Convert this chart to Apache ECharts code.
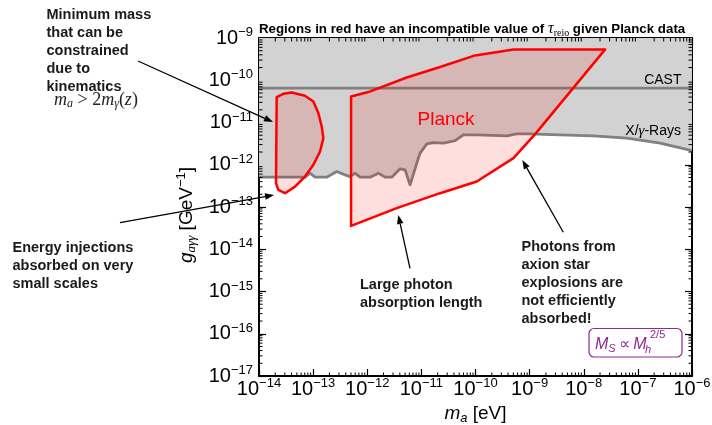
<!DOCTYPE html>
<html>
<head>
<meta charset="utf-8">
<script src="https://cdn.jsdelivr.net/npm/echarts@6/dist/echarts.min.js"></script>
<style>
html, body { margin: 0; padding: 0; background: #fff; }
#main { width: 712px; height: 425px; }
</style>
</head>
<body>
<div id="main"></div>
<script>
// all values are log10: x = log10(m_a / eV), y = log10(g / GeV^-1)
const xrayX = [-14, -13.150, -13.057, -12.965, -12.749, -12.564, -12.410, -12.318, -12.226, -12.133, -11.948, -11.795,
  -11.671, -11.547, -11.394, -11.301, -11.209, -11.055, -11.024, -10.900, -10.778, -10.593, -10.377, -10.224,
  -9.976, -9.421, -9.237, -9.022, -8.436, -7.821, -7.203, -6.588, -6];
const xrayY = [-12.294, -12.294, -12.199, -12.294, -12.294, -12.161, -12.239, -12.280, -12.199, -12.294, -12.294, -12.199,
  -12.294, -12.294, -12.097, -12.121, -12.476, -11.844, -11.725, -11.505, -11.474, -11.488, -11.427, -11.291,
  -11.291, -11.315, -11.268, -11.268, -11.291, -11.315, -11.370, -11.488, -11.664];

const castX = [-14, -6];
const castY = [-10.185, -10.185];

const blobX = [-13.686, -13.673, -13.551, -13.396, -13.150, -12.996, -12.904, -12.841, -12.811, -12.872, -12.996, -13.150, -13.335, -13.519, -13.643];
const blobY = [-12.436, -10.398, -10.320, -10.289, -10.367, -10.502, -10.777, -11.095, -11.370, -11.687, -12.002, -12.280, -12.517, -12.673, -12.595];

const planckX = [-12.299, -11.980, -11.270, -10.654, -10.007, -9.299, -7.604, -8.898, -9.299, -9.976, -10.654, -11.455, -12.299];
const planckY = [-10.384, -10.280, -9.934, -9.687, -9.412, -9.270, -9.270, -11.275, -11.844, -12.398, -12.673, -13.028, -13.448];

const xMin = -14, xMax = -6, yMin = -17, yMax = -9;

const SANS = '"Liberation Sans", Arial, Helvetica, sans-serif';
const SERIF = '"Liberation Serif", "Times New Roman", serif';

const chart = echarts.init(document.getElementById('main'));

const tickRich = {
    b: { fontSize: 20, fontFamily: SANS, color: '#000' },
    s: { fontSize: 13, fontFamily: SANS, color: '#000', padding: [0, 0, 11, 0] }
};
function powLabel(v) {
    return '{b|10}{s|−' + Math.abs(v) + '}';
}

// minor ticks of a log axis (2..9 in each decade)
const minorX = [], minorY = [];
for (let d = xMin; d < xMax; d++) for (let k = 2; k <= 9; k++) minorX.push(d + Math.log10(k));
for (let d = yMin; d < yMax; d++) for (let k = 2; k <= 9; k++) minorY.push(d + Math.log10(k));

function polySeries(xs, ys, style, z) {
    return {
        type: 'custom', z: z, silent: true,
        data: [[xs[0], ys[0]]],
        renderItem: function (params, api) {
            const pts = xs.map((x, i) => api.coord([x, ys[i]]));
            return { type: 'polygon', shape: { points: pts }, style: style };
        }
    };
}

function tickLine(x1, y1, x2, y2) {
    return { type: 'line', shape: { x1: x1, y1: y1, x2: x2, y2: y2 }, style: { stroke: '#000', lineWidth: 1 } };
}

function arrow(x1, y1, x2, y2) {
    const a = Math.atan2(y2 - y1, x2 - x1), L = 9, W = 3.3;
    const bx = x2 - L * Math.cos(a), by = y2 - L * Math.sin(a);
    return [
        { type: 'line', z: 100, shape: { x1: x1, y1: y1, x2: bx, y2: by }, style: { stroke: '#000', lineWidth: 1.3 } },
        { type: 'polygon', z: 100, shape: { points: [[x2, y2], [bx - W * Math.sin(a), by + W * Math.cos(a)], [bx + W * Math.sin(a), by - W * Math.cos(a)]] }, style: { fill: '#000' } }
    ];
}

function note(x, y, text) {
    return { type: 'text', x: x, y: y, z: 100, style: { text: text, font: 'bold 14.5px ' + SANS, fill: '#1a1a1a', lineHeight: 18, verticalAlign: 'top' } };
}

const axisCommon = {
    type: 'value',
    axisLine: { show: true, onZero: false, lineStyle: { color: '#000', width: 2 } },
    axisTick: { show: true, inside: true, length: 7, lineStyle: { color: '#000', width: 1.2 } },
    splitLine: { show: false }
};

const purple = '#8e2a8e';

let option = {
    animation: false,
    grid: { left: 259, right: 20, top: 38, bottom: 49, containLabel: false, outerBoundsMode: 'none' },
    title: {
        text: 'Regions in red have an incompatible value of {t|τ}{sub|reio} given Planck data',
        left: 259, top: 20, padding: 0,
        textStyle: {
            fontFamily: SANS, fontWeight: 'bold', fontSize: 13.3, color: '#000',
            rich: {
                t: { fontFamily: SERIF, fontStyle: 'italic', fontSize: 16, fontWeight: 'normal' },
                sub: { fontFamily: SERIF, fontSize: 10, fontWeight: 'normal', padding: [8, 0, 0, 0] }
            }
        }
    },
    xAxis: [
        Object.assign({}, axisCommon, {
            min: xMin, max: xMax, interval: 1, position: 'bottom',
            axisLabel: { formatter: powLabel, rich: tickRich, margin: 1, showMinLabel: true, showMaxLabel: true },
            name: '{i|m}{sub|a} [eV]', nameLocation: 'middle', nameGap: 24,
            nameTextStyle: {
                fontFamily: SANS, fontSize: 19, color: '#000',
                rich: {
                    i: { fontFamily: SANS, fontStyle: 'italic', fontSize: 19 },
                    sub: { fontFamily: SANS, fontStyle: 'italic', fontSize: 13, padding: [9, 0, 0, 0] }
                }
            }
        }),
        Object.assign({}, axisCommon, {
            min: xMin, max: xMax, interval: 1, position: 'top',
            axisLabel: { show: false }
        })
    ],
    yAxis: [
        Object.assign({}, axisCommon, {
            min: yMin, max: yMax, interval: 1, position: 'left',
            axisLabel: { formatter: powLabel, rich: tickRich, margin: 6, showMinLabel: true, showMaxLabel: true },
            name: '{i|g}{sub|aγγ} [GeV{sup|−1}]', nameLocation: 'middle', nameRotate: 90, nameGap: 60,
            nameTextStyle: {
                fontFamily: SANS, fontSize: 19, color: '#000', padding: [0, 16, 0, 0],
                rich: {
                    i: { fontFamily: SANS, fontStyle: 'italic', fontSize: 19 },
                    sub: { fontFamily: SERIF, fontStyle: 'italic', fontSize: 13, padding: [9, 0, 0, 0] },
                    sup: { fontFamily: SANS, fontSize: 13, padding: [0, 0, 11, 0] }
                }
            }
        }),
        Object.assign({}, axisCommon, {
            min: yMin, max: yMax, interval: 1, position: 'right',
            axisLabel: { show: false }
        })
    ],
    series: [
        polySeries(xrayX.concat([xMax, xMin]), xrayY.concat([yMax, yMax]), { fill: '#d2d2d2' }, 1),
        {
            type: 'line', z: 2, silent: true, showSymbol: false,
            data: castX.map((x, i) => [x, castY[i]]),
            lineStyle: { color: '#808080', width: 2.8 }
        },
        {
            type: 'line', z: 2, silent: true, showSymbol: false,
            data: xrayX.map((x, i) => [x, xrayY[i]]),
            lineStyle: { color: '#808080', width: 2.8, join: 'round' }
        },
        polySeries(blobX, blobY, { fill: 'rgba(255,0,0,0.13)', stroke: '#ff0000', lineWidth: 2.5, lineJoin: 'round' }, 3),
        polySeries(planckX, planckY, { fill: 'rgba(255,0,0,0.13)', stroke: '#ff0000', lineWidth: 2.5, lineJoin: 'round' }, 3),
        {
            type: 'custom', z: 5, silent: true,
            data: minorX.map(v => [v, yMin]),
            renderItem: function (params, api) {
                const b = api.coord([api.value(0), yMin]);
                const t = api.coord([api.value(0), yMax]);
                return { type: 'group', children: [tickLine(b[0], b[1], b[0], b[1] - 3.5), tickLine(t[0], t[1], t[0], t[1] + 3.5)] };
            }
        },
        {
            type: 'custom', z: 5, silent: true,
            data: minorY.map(v => [xMin, v]),
            renderItem: function (params, api) {
                const l = api.coord([xMin, api.value(1)]);
                const r = api.coord([xMax, api.value(1)]);
                return { type: 'group', children: [tickLine(l[0], l[1], l[0] + 3.5, l[1]), tickLine(r[0], r[1], r[0] - 3.5, r[1])] };
            }
        }
    ],
    graphic: [
        note(46.5, 6, 'Minimum mass\nthat can be\nconstrained\ndue to\nkinematics'),
        {
            type: 'text', x: 54, y: 90, z: 100,
            style: {
                text: '{i|m}{s|a}{r| > 2}{i|m}{s|γ}{r|(}{i|z}{r|)}', verticalAlign: 'top', fill: '#222',
                rich: {
                    i: { fontFamily: SERIF, fontStyle: 'italic', fontSize: 18 },
                    r: { fontFamily: SERIF, fontSize: 18 },
                    s: { fontFamily: SERIF, fontStyle: 'italic', fontSize: 12, padding: [8, 0, 0, 0] }
                }
            }
        },
        note(12.5, 238.5, 'Energy injections\nabsorbed on very\nsmall scales'),
        note(360, 276, 'Large photon\nabsorption length'),
        note(521.5, 238, 'Photons from\naxion star\nexplosions are\nnot efficiently\nabsorbed!'),
        ...arrow(138, 61, 273, 122),
        ...arrow(120, 222.7, 274, 195),
        ...arrow(410, 268.3, 398.3, 215),
        ...arrow(563.3, 232.3, 522.3, 160),
        { type: 'text', x: 446, y: 120, z: 100, style: { text: 'Planck', font: '19px ' + SANS, fill: '#ff0000', align: 'center', verticalAlign: 'middle' } },
        { type: 'text', x: 681.5, y: 80, z: 100, style: { text: 'CAST', font: '14px ' + SANS, fill: '#000', align: 'right', verticalAlign: 'middle' } },
        {
            type: 'text', x: 681, y: 131.5, z: 100,
            style: {
                text: 'X/{g|γ}-Rays', font: '14px ' + SANS, fill: '#000', align: 'right', verticalAlign: 'middle',
                rich: { g: { fontFamily: SERIF, fontStyle: 'italic', fontSize: 15 } }
            }
        },
        { type: 'rect', z: 100, shape: { x: 589, y: 328.5, width: 93, height: 28.5, r: 5 }, style: { fill: '#fff', stroke: purple, lineWidth: 1.2 } },
        {
            type: 'text', x: 595, y: 345, z: 101,
            style: {
                text: '{i|M}{s|S} {r|∝} {i|M}', verticalAlign: 'middle', fill: purple,
                rich: {
                    i: { fontFamily: SANS, fontStyle: 'italic', fontSize: 16, fill: purple },
                    r: { fontFamily: SANS, fontSize: 16, fill: purple },
                    s: { fontFamily: SANS, fontStyle: 'italic', fontSize: 11, fill: purple, padding: [8, 0, 0, 0] }
                }
            }
        },
        { type: 'text', x: 645, y: 350, z: 101, style: { text: 'h', font: 'italic 11px ' + SANS, fill: purple, verticalAlign: 'middle' } },
        { type: 'text', x: 650, y: 335, z: 101, style: { text: '2/5', font: '11px ' + SANS, fill: purple, verticalAlign: 'middle' } }
    ]
};

chart.setOption(option);
</script>
</body>
</html>
